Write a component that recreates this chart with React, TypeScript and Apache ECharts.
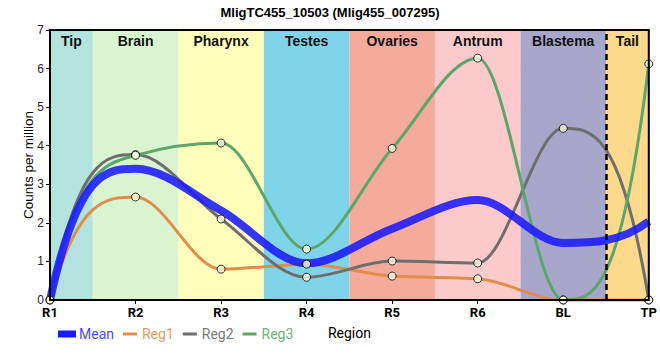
import React, { useEffect, useRef } from "react";
import * as echarts from "echarts";

const titleText = "MligTC455_10503 (Mlig455_007295)";
const categories = ["R1", "R2", "R3", "R4", "R5", "R6", "BL", "TP"];
const meanValues = [0, 3.4, 2.32, 0.95, 1.85, 2.59, 1.48, 2.04];
const reg1Values = [0, 2.67, 0.8, 0.93, 0.62, 0.55, 0, 0];
const reg2Values = [0, 3.77, 2.1, 0.59, 1.01, 0.96, 4.45, 0];
const reg3Values = [0, 3.75, 4.07, 1.32, 3.93, 6.27, 0, 6.12];
const regionNames = ["Tip", "Brain", "Pharynx", "Testes", "Ovaries", "Antrum", "Blastema", "Tail"];
const regionColors = ["#b3e3dd", "#d9f5d0", "#ffffbb", "#7fd4ea", "#f4ab9c", "#fdcacc", "#a9a6cc", "#fdd98c"];
const yTicks = [0, 1, 2, 3, 4, 5, 6, 7];

const seriesColors: Record<string, string> = { Mean: "#1a1aff", Reg1: "#e08c4c", Reg2: "#6e6e6e", Reg3: "#5ca66a" };

// monotone cubic (Fritsch–Carlson) path through pixel points
function monotonePath(pts: number[][]): string {
  const n = pts.length;
  if (n < 2) return "";
  const sign = (v: number) => (v > 0 ? 1 : v < 0 ? -1 : 0);
  const t: number[] = new Array(n).fill(0);
  for (let i = 1; i < n - 1; i++) {
    const h0 = pts[i][0] - pts[i - 1][0];
    const h1 = pts[i + 1][0] - pts[i][0];
    const s0 = (pts[i][1] - pts[i - 1][1]) / h0;
    const s1 = (pts[i + 1][1] - pts[i][1]) / h1;
    const p = (s0 * h1 + s1 * h0) / (h0 + h1);
    t[i] = (sign(s0) + sign(s1)) * Math.min(Math.abs(s0), Math.abs(s1), 0.5 * Math.abs(p)) || 0;
  }
  {
    const s = (pts[1][1] - pts[0][1]) / (pts[1][0] - pts[0][0]);
    t[0] = 3 * s - t[1];
    const s2 = (pts[n - 1][1] - pts[n - 2][1]) / (pts[n - 1][0] - pts[n - 2][0]);
    t[n - 1] = 3 * s2 - t[n - 2];
  }
  let d = `M${pts[0][0]},${pts[0][1]}`;
  for (let i = 0; i < n - 1; i++) {
    const [x0, y0] = pts[i];
    const [x1, y1] = pts[i + 1];
    const dx = (x1 - x0) / 3;
    d += ` C${x0 + dx},${y0 + dx * t[i]} ${x1 - dx},${y1 - dx * t[i + 1]} ${x1},${y1}`;
  }
  return d;
}

export default function App() {
  const ref = useRef<HTMLDivElement>(null);
  useEffect(() => {
    if (!ref.current) return;
    const chart = echarts.init(ref.current, null, { renderer: "svg" });
    const toPts = (arr: number[]) => arr.map((v, i) => [i, v]);
    const n = categories.length;
    const bands = regionNames.map((name, i) => [
      { xAxis: Math.max(0, i - 0.5), name, itemStyle: { color: regionColors[i] } },
      { xAxis: Math.min(n - 1, i + 0.5) },
    ]);
    const curveSeries = (name: string, vals: number[], width: number, z: number, opacity: number) => ({
      name,
      type: "custom",
      z,
      silent: true,
      data: toPts(vals),
      encode: { x: 0, y: 1 },
      itemStyle: { color: seriesColors[name] },
      renderItem: (params: any, api: any) => {
        if (params.dataIndex !== 0) return { type: "group", children: [] };
        const pts = vals.map((v, i) => api.coord([i, v]));
        return {
          type: "path",
          shape: { pathData: monotonePath(pts) },
          style: { fill: "none", stroke: seriesColors[name], lineWidth: width, opacity },
        };
      },
    });
    const regs: [string, number[]][] = [
      ["Reg1", reg1Values],
      ["Reg2", reg2Values],
      ["Reg3", reg3Values],
    ];
    const regLegend = (name: string, textColor: string) => ({
      name,
      icon: "rect",
      itemStyle: { color: seriesColors[name], borderWidth: 0 },
      textStyle: { color: textColor },
    });
    const option: any = {
      animation: false,
      title: {
        text: titleText,
        left: "center",
        top: 1,
        textStyle: { fontFamily: "Liberation Sans, Arial", fontSize: 13, fontWeight: "bold", color: "#000" },
      },
      grid: { left: 50, right: 10, top: 30, bottom: 60, show: true, borderColor: "#000", borderWidth: 2, backgroundColor: "transparent", z: 10 },
      legend: {
        left: 53,
        top: 322,
        itemWidth: 14,
        itemHeight: 3,
        itemGap: 9,
        textStyle: { fontFamily: "Roboto", fontSize: 14 },
        data: [
          {
            name: "Mean",
            icon: "rect",
            itemStyle: { color: seriesColors.Mean, borderColor: seriesColors.Mean, borderWidth: 4 },
            textStyle: { color: "#4a4aff" },
          },
          regLegend("Reg1", "#e59a64"),
          regLegend("Reg2", "#7a7a7a"),
          regLegend("Reg3", "#6cb37a"),
        ],
      },
      xAxis: {
        type: "value",
        min: 0,
        max: n - 1,
        interval: 1,
        z: 1,
        name: "Region",
        nameLocation: "middle",
        nameGap: 26,
        nameMoveOverlap: false,
        nameTextStyle: { fontFamily: "Roboto", fontSize: 14, color: "#000" },
        axisLine: { lineStyle: { color: "#000", width: 2 } },
        axisTick: { show: true, length: 4, lineStyle: { color: "#000" } },
        axisLabel: {
          formatter: (v: number) => categories[v] ?? "",
          fontFamily: "Roboto",
          fontWeight: "bold",
          fontSize: 13,
          color: "#000",
          margin: 6,
        },
        splitLine: { show: true, lineStyle: { color: "#cccccc", width: 1 } },
      },
      yAxis: {
        type: "value",
        min: yTicks[0],
        max: yTicks[yTicks.length - 1],
        interval: 1,
        z: 1,
        name: "Counts per million",
        nameLocation: "middle",
        nameGap: 15,
        nameMoveOverlap: false,
        nameTextStyle: { fontFamily: "Liberation Sans, Arial", fontSize: 13.5, color: "#000" },
        axisLine: { show: true, lineStyle: { color: "#000", width: 2 } },
        axisTick: { show: true, length: 4, lineStyle: { color: "#000" } },
        axisLabel: { fontFamily: "Liberation Sans, Arial", fontSize: 12, color: "#222", margin: 6 },
        splitLine: { show: true, lineStyle: { color: "#cccccc", width: 1 } },
      },
      series: [
        {
          name: "bands",
          type: "line",
          data: [],
          z: 0,
          silent: true,
          markArea: {
            silent: true,
            label: {
              show: true,
              position: "insideTop",
              distance: 4,
              fontFamily: "Liberation Sans, Arial",
              fontWeight: "bold",
              fontSize: 14,
              color: "#111",
            },
            data: bands,
          },
          markLine: {
            silent: true,
            symbol: "none",
            label: { show: false },
            lineStyle: { color: "#000", type: [6, 4], width: 2.5 },
            data: [{ xAxis: n - 1.5 }],
          },
        },
        ...regs.map(([name, vals]) => curveSeries(name, vals, 3, 3, 1)),
        curveSeries("Mean", meanValues, 8, 4, 0.88),
        ...regs.map(([name, vals]) => ({
          name: name + " points",
          type: "scatter",
          data: toPts(vals),
          symbol: "circle",
          symbolSize: 8,
          z: 6,
          silent: true,
          itemStyle: { color: "#fbfbe0", borderColor: "#000", borderWidth: 1 },
        })),
      ],
    };
    chart.setOption(option);
    return () => chart.dispose();
  }, []);
  return <div ref={ref} style={{ width: 660, height: 360, position: "absolute", left: 0, top: 0 }} />;
}
